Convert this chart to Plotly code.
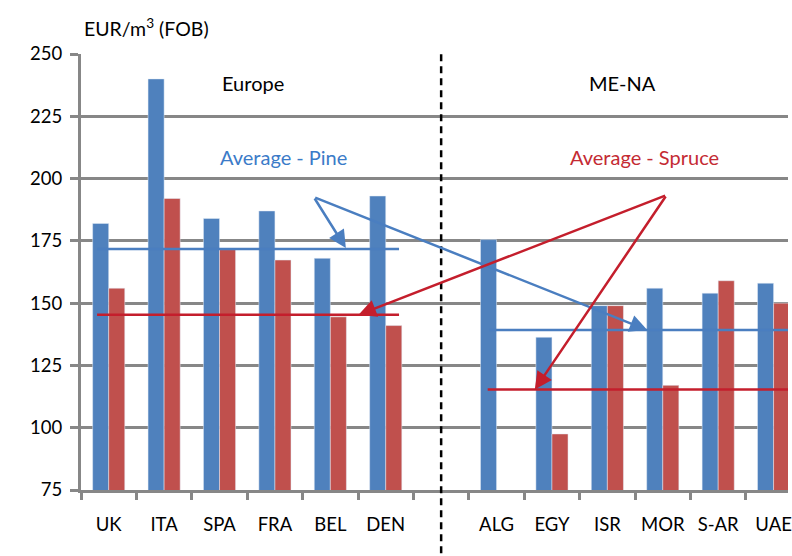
import plotly.graph_objects as go

categories = ["UK", "ITA", "SPA", "FRA", "BEL", "DEN", " ", "ALG", "EGY", "ISR", "MOR", "S-AR", "UAE"]
pine = [182, 240, 184, 187, 168, 193, None, 175.5, 136.3, 149, 156, 154, 158]
spruce = [156, 192, 171.5, 167.3, 144.5, 141, None, None, 97.5, 149, 117, 159, 150]
avg_pine = {"Europe": 171.7, "ME-NA": 139.2}
avg_spruce = {"Europe": 145.3, "ME-NA": 115.3}
y_ticks = [75, 100, 125, 150, 175, 200, 225, 250]

BLUE = "#4F81BD"
RED = "#C0504D"
LBLUE = "#4A7EC0"
LRED = "#C41E2C"
GRID = "#878787"
FONT = "Lato"

fig = go.Figure()
fig.add_trace(go.Bar(x=categories, y=pine, marker=dict(color=BLUE), name="Pine"))
fig.add_trace(go.Bar(x=categories, y=spruce, marker=dict(color=RED), name="Spruce"))

shapes = []
shapes.append(dict(type="line", xref="x", yref="y", x0=-0.21, x1=5.24,
                   y0=avg_pine["Europe"], y1=avg_pine["Europe"], line=dict(color=LBLUE, width=2.5)))
shapes.append(dict(type="line", xref="x", yref="y", x0=-0.21, x1=5.24,
                   y0=avg_spruce["Europe"], y1=avg_spruce["Europe"], line=dict(color=LRED, width=2.5)))
shapes.append(dict(type="line", xref="x", yref="y", x0=6.87, x1=12.4,
                   y0=avg_pine["ME-NA"], y1=avg_pine["ME-NA"], line=dict(color=LBLUE, width=2.5)))
shapes.append(dict(type="line", xref="x", yref="y", x0=6.84, x1=12.4,
                   y0=avg_spruce["ME-NA"], y1=avg_spruce["ME-NA"], line=dict(color=LRED, width=2.5)))
shapes.append(dict(type="line", xref="x", yref="paper", x0=6, x1=6, y0=-0.2, y1=1,
                   line=dict(color="black", width=2.5, dash="7px,5px")))

annotations = []
bstart = (3.70, 192.6)
rstart = (10.07, 193.4)
for tip, start, col in [((4.28, avg_pine["Europe"] + 0.4), bstart, LBLUE),
                        ((9.72, avg_pine["ME-NA"]), bstart, LBLUE),
                        ((4.51, avg_spruce["Europe"]), rstart, LRED),
                        ((7.69, avg_spruce["ME-NA"]), rstart, LRED)]:
    annotations.append(dict(x=tip[0], y=tip[1], ax=start[0], ay=start[1], xref="x", yref="y",
                            axref="x", ayref="y", text="", showarrow=True, arrowhead=2,
                            arrowsize=1.4, arrowwidth=2.5, arrowcolor=col, standoff=0))

annotations.append(dict(x=3.16, y=208.6, xref="x", yref="y", text="Average - Pine", showarrow=False,
                        font=dict(family=FONT, size=20, color="#3B7BC8")))
annotations.append(dict(x=9.67, y=208.6, xref="x", yref="y", text="Average - Spruce", showarrow=False,
                        font=dict(family=FONT, size=20, color="#C42A33")))
annotations.append(dict(x=2.61, y=238.4, xref="x", yref="y", text="Europe", showarrow=False,
                        font=dict(family=FONT, size=20, color="black")))
annotations.append(dict(x=9.28, y=238.4, xref="x", yref="y", text="ME-NA", showarrow=False,
                        font=dict(family=FONT, size=20, color="black")))
annotations.append(dict(x=1 / 711, y=1 + (54 - 27) / 436, xref="paper", yref="paper",
                        text="EUR/m<sup>3</sup> (FOB)", showarrow=False, xanchor="left",
                        yanchor="middle", font=dict(family=FONT, size=19.5, color="black")))

fig.update_layout(
    width=792, height=556,
    margin=dict(l=81, r=0, t=54, b=66),
    paper_bgcolor="white", plot_bgcolor="white",
    barmode="group", bargap=0.42, bargroupgap=0.0,
    showlegend=False,
    font=dict(family=FONT, size=18, color="black"),
    shapes=shapes, annotations=annotations,
)
fig.update_xaxes(type="category", categoryorder="array", categoryarray=categories,
                 range=[-0.5, 12.26], showgrid=False, showline=True, linecolor=GRID, linewidth=3,
                 ticks="outside", tickson="boundaries", ticklen=7, tickwidth=2.5, tickcolor=GRID,
                 ticklabelstandoff=16, tickfont=dict(family=FONT, size=18.5, color="black"))
fig.update_yaxes(range=[75, 250], tickvals=y_ticks, showgrid=True, gridcolor=GRID, gridwidth=3,
                 showline=True, linecolor=GRID, linewidth=3, ticks="outside", ticklen=8,
                 tickwidth=3, tickcolor=GRID, ticklabelstandoff=4, zeroline=False,
                 tickfont=dict(family=FONT, size=18.5, color="black"))

fig.write_html("out.html", config={"displayModeBar": False},
               post_script="document.body.style.margin='0px';document.body.style.overflow='hidden';")
